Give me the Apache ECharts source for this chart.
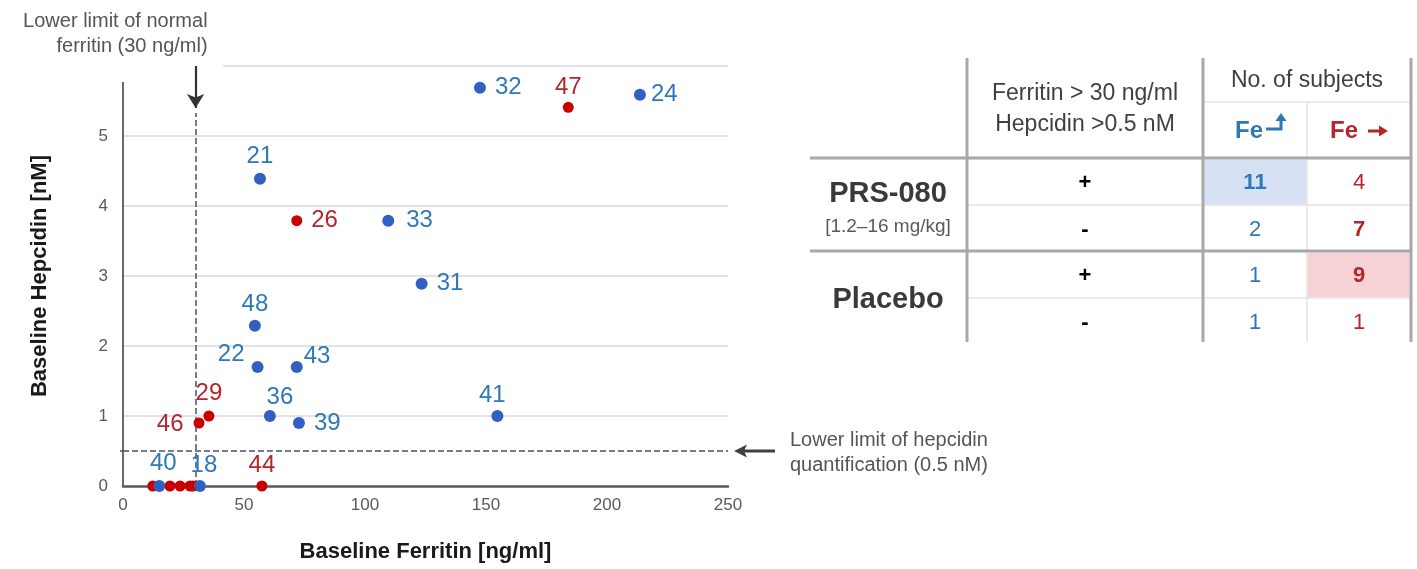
<!DOCTYPE html>
<html><head><meta charset="utf-8">
<script src="https://cdn.jsdelivr.net/npm/echarts@6/dist/echarts.min.js"></script>
<style>html,body{margin:0;padding:0;background:#fff}#c{width:1417px;height:569px}</style>
</head><body><div id="c"></div>
<script>
// ---------- data ----------
const xTicksMax = 250;
const yTicksMax = 6;
const ferritinLimit = 30;
const hepcidinLimit = 0.5;

const blueIds      = ['32', '24', '21', '33', '31', '48', '22', '43', '36', '39', '41', '40', '18'];
const blueFerritin = [147.5, 213.6, 56.6, 109.6, 123.4, 54.5, 55.6, 71.8, 60.7, 72.7, 154.7, 15.0, 31.8];
const blueHepcidin = [5.69, 5.59, 4.39, 3.79, 2.89, 2.29, 1.70, 1.70, 1.00, 0.90, 1.00, 0, 0];

const redIds      = ['47', '26', '29', '46', '44', '', '', '', '', ''];
const redFerritin = [184.0, 71.8, 35.5, 31.4, 57.4, 12.3, 19.4, 23.6, 27.7, 29.0];
const redHepcidin = [5.41, 3.79, 1.00, 0.90, 0, 0, 0, 0, 0, 0];

const tableGroups   = ['PRS-080', 'Placebo'];
const doseNote      = '[1.2–16 mg/kg]';
const criterionSign = ['+', '-', '+', '-'];
const feUpCounts    = [11, 2, 1, 1];
const feFlatCounts  = [4, 7, 9, 1];

// ---------- styles ----------
const FONT = '"Liberation Sans", Arial, sans-serif';
const BLUE_DOT = '#3160C2', BLUE_TXT = '#2E78BA';
const RED_DOT = '#C80000', RED_TXT = '#B4262B';
const labelPlacement = {
  '32': {position: 'right', distance: 9},
  '24': {position: 'right', distance: 5},
  '21': {position: 'top', distance: 4},
  '33': {position: 'right', distance: 12},
  '31': {position: 'right', distance: 9},
  '48': {position: 'top', distance: 3},
  '22': {position: 'left', distance: 7, offset: [0, -13]},
  '43': {position: 'right', distance: 1, offset: [0, -11]},
  '36': {position: 'top', distance: 1, offset: [10, 0]},
  '39': {position: 'right', distance: 9},
  '41': {position: 'top', distance: 3, offset: [-5, 0]},
  '40': {position: 'top', distance: 5, offset: [4, 0]},
  '18': {position: 'top', distance: 3, offset: [4, 0]},
  '47': {position: 'top', distance: 2},
  '26': {position: 'right', distance: 9},
  '29': {position: 'top', distance: 5},
  '46': {position: 'left', distance: 10, offset: [0, 1]},
  '44': {position: 'top', distance: 3}
};

function buildPoints(ids, xs, ys, color) {
  return ids.map((id, i) => {
    const item = {value: [xs[i], ys[i]], name: id};
    if (id && labelPlacement[id]) {
      const p = labelPlacement[id];
      item.label = Object.assign({show: true, formatter: id, color: color, fontSize: 24, fontFamily: FONT}, p);
    } else {
      item.label = {show: false};
    }
    return item;
  });
}

const chart = echarts.init(document.getElementById('c'), null, {renderer: 'canvas'});

const gridLineStyle = {color: '#D9D9D9', width: 1.5, type: 'solid'};
const refLines = [];
for (let v = 1; v < yTicksMax; v++) refLines.push({yAxis: v, lineStyle: gridLineStyle});
refLines.push([{coord: [41.3, yTicksMax], lineStyle: gridLineStyle}, {coord: [xTicksMax, yTicksMax]}]);
// y axis line (stops short of the top grid line)
refLines.push([{coord: [0, 0], lineStyle: {color: '#595959', width: 1.8, type: 'solid'}}, {coord: [0, 5.77]}]);
// dashed reference lines
const dashStyle = {color: '#44546A', width: 1.5, type: 'dashed', dashOffset: 0};
refLines.push([{coord: [ferritinLimit, 0], lineStyle: dashStyle}, {coord: [ferritinLimit, 5.33]}]);
refLines.push([{coord: [0, hepcidinLimit], lineStyle: dashStyle}, {coord: [xTicksMax, hepcidinLimit]}]);

const arrowLine = [{coord: [ferritinLimit, 6.0], symbol: 'none', lineStyle: {color: '#333', width: 2.2, type: 'solid'}},
                   {coord: [ferritinLimit, 5.40], symbol: 'arrow', symbolSize: [13, 14]}];

chart.setOption({
  animation: false,
  backgroundColor: '#fff',
  grid: {left: 123, right: 689, top: 66, bottom: 83, containLabel: false},
  xAxis: {
    type: 'value', min: 0, max: xTicksMax, interval: 50,
    name: 'Baseline Ferritin [ng/ml]', nameLocation: 'middle', nameGap: 55,
    nameTextStyle: {fontSize: 22, fontWeight: 'bold', color: '#1a1a1a', fontFamily: FONT},
    axisLine: {show: true, lineStyle: {color: '#595959', width: 2.5}},
    axisTick: {show: false},
    splitLine: {show: false},
    axisLabel: {fontSize: 17, color: '#595959', margin: 11, fontFamily: FONT}
  },
  yAxis: {
    type: 'value', min: 0, max: yTicksMax, interval: 1,
    name: 'Baseline Hepcidin [nM]', nameLocation: 'middle', nameGap: 72,
    nameTextStyle: {fontSize: 22, fontWeight: 'bold', color: '#1a1a1a', fontFamily: FONT},
    axisLine: {show: false}, axisTick: {show: false}, splitLine: {show: false},
    axisLabel: {fontSize: 17, color: '#595959', margin: 15, fontFamily: FONT,
      formatter: v => (v === yTicksMax ? '' : String(v))}
  },
  series: [
    {
      type: 'scatter', data: [], z: 1, silent: true,
      markLine: {silent: true, z: 1, symbol: 'none', label: {show: false}, animation: false,
        data: refLines.concat([arrowLine])}
    },
    {
      type: 'scatter', name: 'Fe flat', z: 3, symbolSize: 11,
      itemStyle: {color: RED_DOT, opacity: 1},
      data: buildPoints(redIds, redFerritin, redHepcidin, RED_TXT)
    },
    {
      type: 'scatter', name: 'Fe up', z: 4, symbolSize: 12,
      itemStyle: {color: BLUE_DOT, opacity: 1},
      data: buildPoints(blueIds, blueFerritin, blueHepcidin, BLUE_TXT)
    }
  ]
});

// ---------- annotations & table (graphic) ----------
const g = [];
const txt = (x, y, text, opt) => g.push({type: 'text', x: x, y: y, z: 10,
  style: Object.assign({text: text, fontFamily: FONT, fontSize: 20, fill: '#404040', align: 'center', verticalAlign: 'middle'}, opt || {})});
const line = (x1, y1, x2, y2, stroke, w, dash) => g.push({type: 'line', z: 5, shape: {x1, y1, x2, y2},
  style: Object.assign({stroke: stroke, lineWidth: w}, dash ? {lineDash: dash} : {})});

// ferritin annotation text
const pF = chart.convertToPixel({xAxisIndex: 0, yAxisIndex: 0}, [ferritinLimit, yTicksMax]);
txt(pF[0] + 12, 21, 'Lower limit of normal', {align: 'right', fill: '#555', fontSize: 20});
txt(pF[0] + 12, 46, 'ferritin (30 ng/ml)', {align: 'right', fill: '#555', fontSize: 20});

// hepcidin annotation arrow and text
const pH = chart.convertToPixel({xAxisIndex: 0, yAxisIndex: 0}, [xTicksMax, hepcidinLimit]);
line(pH[0] + 47, pH[1], pH[0] + 16, pH[1], '#404040', 3);
g.push({type: 'polygon', z: 6, shape: {points: [[pH[0] + 6, pH[1]], [pH[0] + 19, pH[1] - 6.5], [pH[0] + 16, pH[1]], [pH[0] + 19, pH[1] + 6.5]]}, style: {fill: '#404040'}});
txt(pH[0] + 62, pH[1] - 11, 'Lower limit of hepcidin', {align: 'left', fill: '#555'});
txt(pH[0] + 62, pH[1] + 14, 'quantification (0.5 nM)', {align: 'left', fill: '#555'});

// short overhangs of the dashed limit lines just past the axes
const p0 = chart.convertToPixel({xAxisIndex: 0, yAxisIndex: 0}, [ferritinLimit, 0]);
const pY = chart.convertToPixel({xAxisIndex: 0, yAxisIndex: 0}, [0, hepcidinLimit]);
line(p0[0], p0[1], p0[0], p0[1] + 9, '#44546A', 1.5, [5, 4]);
line(pY[0] - 3, pY[1], pY[0], pY[1], '#44546A', 1.5);

// table cell highlights
g.push({type: 'rect', z: 4, shape: {x: 1204.5, y: 159.5, width: 102, height: 45}, style: {fill: '#D6E1F3'}});
g.push({type: 'rect', z: 4, shape: {x: 1308, y: 252.5, width: 101.5, height: 45}, style: {fill: '#F7D2D4'}});

// light lines
const L = '#E3E3E3';
line(1203, 102, 1411, 102, L, 1.5);
line(1307, 102, 1307, 342, L, 1.5);
line(967, 205, 1411, 205, L, 1.5);
line(967, 298, 1411, 298, L, 1.5);
// heavy lines
const H = '#A8A8A8';
line(967, 58, 967, 342, H, 3);
line(1203, 58, 1203, 342, H, 3);
line(1411, 58, 1411, 342, H, 3);
line(810, 158, 1411, 158, H, 3);
line(810, 251, 1411, 251, H, 3);

// headers
txt(1085, 94, 'Ferritin > 30 ng/ml', {fontSize: 23});
txt(1085, 125, 'Hepcidin >0.5 nM', {fontSize: 23});
txt(1307, 81, 'No. of subjects', {fontSize: 23});
txt(1263, 131, 'Fe', {align: 'right', fontWeight: 'bold', fontSize: 24, fill: BLUE_TXT});
g.push({type: 'polyline', z: 10, shape: {points: [[1266, 129], [1281, 129], [1281, 120]]}, style: {stroke: BLUE_TXT, lineWidth: 3, fill: null}});
g.push({type: 'polygon', z: 10, shape: {points: [[1275.5, 121], [1286.5, 121], [1281, 113]]}, style: {fill: BLUE_TXT}});
txt(1358, 131, 'Fe', {align: 'right', fontWeight: 'bold', fontSize: 24, fill: RED_TXT});
line(1368, 131, 1381, 131, RED_TXT, 3);
g.push({type: 'polygon', z: 10, shape: {points: [[1379, 125.5], [1379, 136.5], [1388, 131]]}, style: {fill: RED_TXT}});

// row group labels
txt(888, 194, tableGroups[0], {fontSize: 29, fontWeight: 'bold', fill: '#3a3a3a'});
txt(888, 227, doseNote, {fontSize: 19, fill: '#595959'});
txt(888, 300, tableGroups[1], {fontSize: 29, fontWeight: 'bold', fill: '#3a3a3a'});

// rows
const rowY = [183, 230, 276, 323];
const upBold = [true, false, false, false];
const flatBold = [false, true, true, false];
criterionSign.forEach((s, i) => {
  txt(1085, rowY[i], s, {fontSize: 22, fontWeight: 'bold', fill: '#000'});
  txt(1255, rowY[i], String(feUpCounts[i]), {fontSize: 22, fontWeight: upBold[i] ? 'bold' : 'normal', fill: BLUE_TXT});
  txt(1359, rowY[i], String(feFlatCounts[i]), {fontSize: 22, fontWeight: flatBold[i] ? 'bold' : 'normal', fill: RED_TXT});
});

chart.setOption({graphic: {elements: g}});
</script>
</body></html>
